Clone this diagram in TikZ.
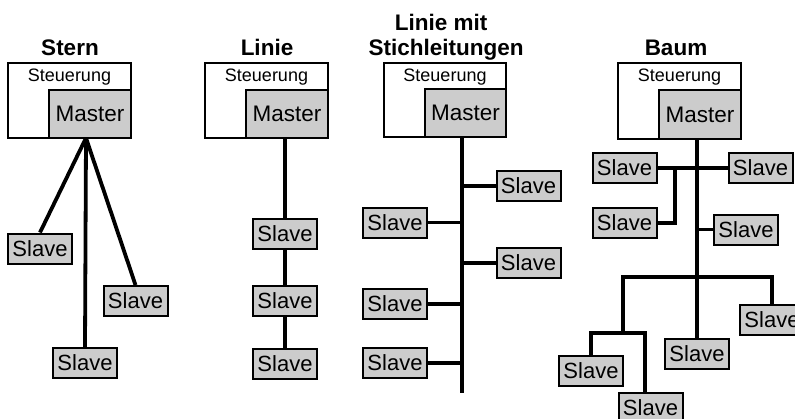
\documentclass[tikz,border=0pt]{standalone}
\usepackage{fontspec}
\setmainfont{Liberation Sans}
\definecolor{boxgray}{RGB}{204,204,204}
\begin{document}
\begin{tikzpicture}[x=1pt,y=-1pt,
  box/.style={draw=black, line width=2pt, inner sep=0pt},
  ctrl/.style={box, fill=white, minimum width=123pt, minimum height=75pt},
  master/.style={box, fill=boxgray, minimum width=82pt, minimum height=48pt, font=\fontsize{22.5}{25}\selectfont},
  slavebox/.style={box, fill=boxgray, minimum width=64pt, minimum height=30pt, font=\fontsize{22}{24}\selectfont},
  title/.style={font=\fontsize{22.5}{25}\selectfont\bfseries, anchor=base, inner sep=0pt},
  ctext/.style={font=\fontsize{18}{20}\selectfont, anchor=base, inner sep=0pt},
  bus/.style={line width=3.8pt, line join=miter},
]
\useasboundingbox (0,0) rectangle (795,418);
\fill[white] (0,0) rectangle (795,418);

% ---------- Stern ----------
\node[title] (tA) at (70,55) {Stern};
\node[ctrl] (cA) at (69.5,100.5) {};
\node[ctext] (ctA) at ([yshift=-19pt]cA.north) {Steuerung};
\node[master] (mA) at (90,114) {Master};
\node[slavebox] (sA1) at (40,248.5) {Slave};
\node[slavebox] (sA2) at (135.5,301) {Slave};
\node[slavebox] (sA3) at (85,363) {Slave};
\coordinate (hubA) at (86,138);
\draw[bus] (hubA) -- (sA1.north);
\draw[bus] (hubA) -- (sA2.north);
\draw[bus] (hubA) -- (sA3.north);

% ---------- Linie ----------
\node[title] (tB) at (267,55) {Linie};
\node[ctrl] (cB) at (266.5,100.5) {};
\node[ctext] (ctB) at ([yshift=-19pt]cB.north) {Steuerung};
\node[master] (mB) at (287,114) {Master};
\node[slavebox] (sB1) at (285,234) {Slave};
\node[slavebox] (sB2) at (285,300.5) {Slave};
\node[slavebox] (sB3) at (285,363.5) {Slave};
\draw[bus] (sB1.north |- mB.south) -- (sB1.north);
\draw[bus] (sB1.south) -- (sB2.north);
\draw[bus] (sB2.south) -- (sB3.north);

% ---------- Linie mit Stichleitungen ----------
\node[title] (tC1) at (441,30) {Linie mit};
\node[title] (tC2) at (446,55) {Stichleitungen};
\node[ctrl, minimum width=122pt, minimum height=74pt] (cC) at (445,100) {};
\node[ctext] (ctC) at ([yshift=-19pt]cC.north) {Steuerung};
\node[master, minimum width=81pt] (mC) at (465.5,113) {Master};
\node[slavebox] (rC1) at (528.5,186) {Slave};
\node[slavebox] (rC2) at (528.5,263) {Slave};
\node[slavebox] (lC1) at (395,222.5) {Slave};
\node[slavebox] (lC2) at (395,304) {Slave};
\node[slavebox] (lC3) at (395,363) {Slave};
\coordinate (busC) at (462,393);
\draw[bus] (busC |- mC.south) -- (busC);
\draw[bus] (busC |- rC1.west) -- (rC1.west);
\draw[bus] (busC |- rC2.west) -- (rC2.west);
\draw[bus] (busC |- lC1.east) -- (lC1.east);
\draw[bus] (busC |- lC2.east) -- (lC2.east);
\draw[bus] (busC |- lC3.east) -- (lC3.east);

% ---------- Baum ----------
\node[title] (tD) at (676,55) {Baum};
\node[ctrl, minimum height=76pt] (cD) at (679.5,101) {};
\node[ctext] (ctD) at ([yshift=-19pt]cD.north) {Steuerung};
\node[master, minimum height=49pt] (mD) at (700,114.5) {Master};
\node[slavebox] (dTL) at (624.5,168) {Slave};
\node[slavebox] (dTR) at (760.5,168) {Slave};
\node[slavebox] (dL2) at (624.5,223) {Slave};
\node[slavebox] (dR2) at (746,229.5) {Slave};
\node[slavebox] (dR3) at (772,320) {Slave};
\node[slavebox] (dM) at (697,354) {Slave};
\node[slavebox] (dBL) at (591,370.5) {Slave};
\node[slavebox] (dBR) at (650.5,408) {Slave};
\draw[bus] (dM.north |- mD.south) -- (dM.north);
\draw[bus] (dTL.east) -- (dTR.west);
\coordinate (jD) at (675,168);
\draw[bus] (jD) |- (dL2.east);
\draw[bus] (dM.north |- dR2.west) -- (dR2.west);
\coordinate (barL) at (623,277);
\coordinate (subC) at (623,333);
\coordinate (subR) at (645,333);
\draw[bus] (subC) -- (barL) -- (barL -| dR3.north) -- (dR3.north);
\draw[bus] (dBL.north) |- (subR) -- (subR |- dBR.north);
\end{tikzpicture}
\end{document}
